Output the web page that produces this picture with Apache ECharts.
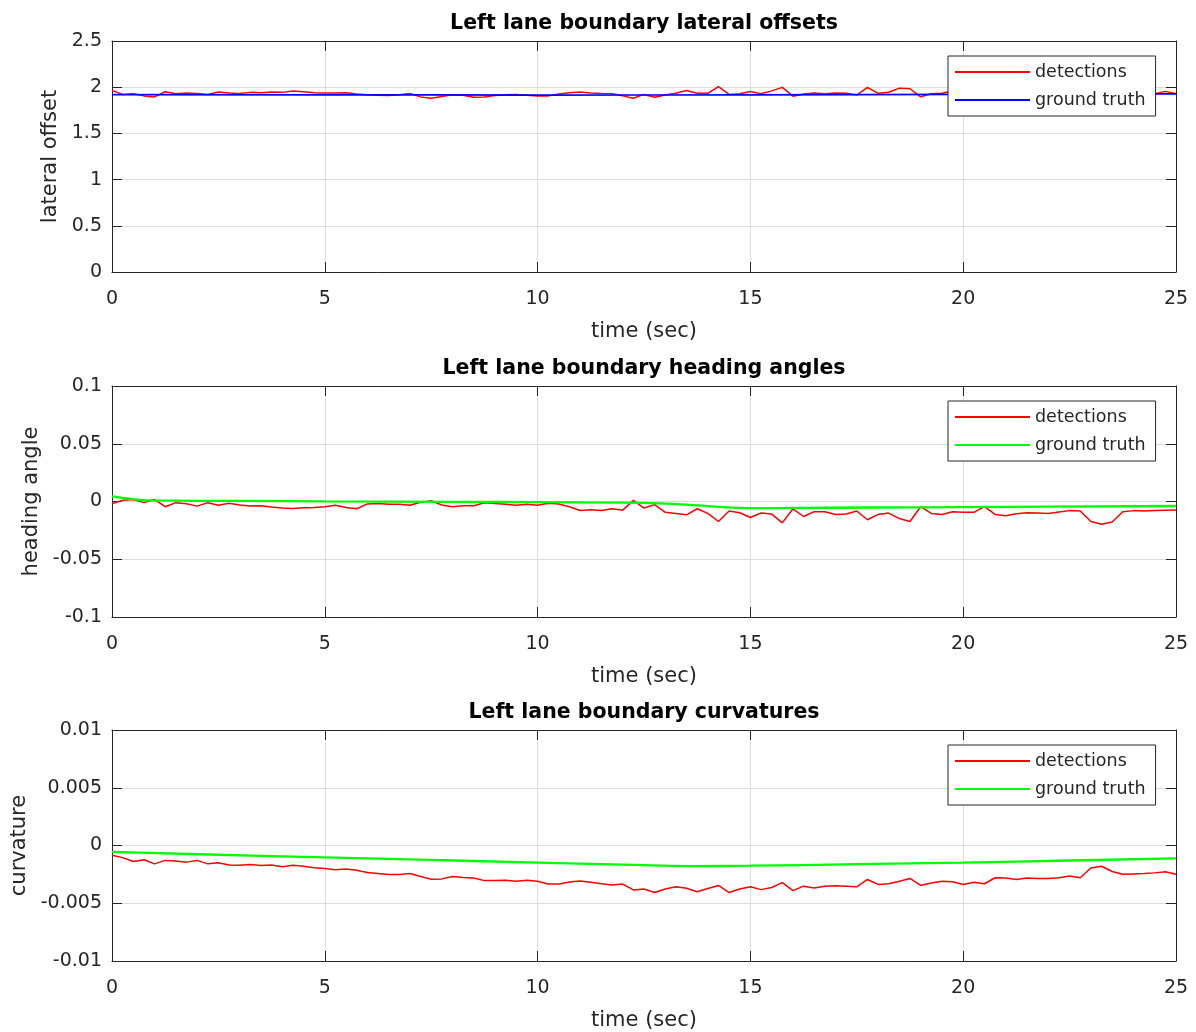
<!DOCTYPE html>
<html>
<head>
<meta charset="utf-8">
<script src="https://cdn.jsdelivr.net/npm/echarts@6/dist/echarts.min.js"></script>
<style>
html,body{margin:0;padding:0;background:#fff;}
#chart{width:1196px;height:1032px;}
</style>
</head>
<body>
<div id="chart"></div>
<script>
// ---------------- data ----------------
const sampleStep = 0.25; // detections sampled every 0.25 s from 0 to 25 s
const titles = ['Left lane boundary lateral offsets', 'Left lane boundary heading angles', 'Left lane boundary curvatures'];
const yNames = ['lateral offset', 'heading angle', 'curvature'];
const xName = 'time (sec)';
const legendNames = ['detections', 'ground truth'];

const offsetDetections = [
  1.966, 1.922, 1.930, 1.906,
  1.895, 1.951, 1.930, 1.937,
  1.933, 1.922, 1.948, 1.937,
  1.933, 1.944, 1.940, 1.948,
  1.944, 1.959, 1.951, 1.940,
  1.937, 1.937, 1.940, 1.926,
  1.918, 1.914, 1.910, 1.918,
  1.933, 1.895, 1.880, 1.899,
  1.918, 1.914, 1.892, 1.895,
  1.910, 1.918, 1.922, 1.914,
  1.906, 1.906, 1.926, 1.940,
  1.948, 1.937, 1.933, 1.930,
  1.906, 1.880, 1.922, 1.892,
  1.915, 1.934, 1.965, 1.934,
  1.934, 2.006, 1.922, 1.930,
  1.953, 1.930, 1.960, 1.998,
  1.903, 1.926, 1.937, 1.930,
  1.937, 1.934, 1.915, 1.998,
  1.934, 1.945, 1.990, 1.983,
  1.896, 1.930, 1.934, 1.960,
  1.930, 1.940, 1.970, 1.930,
  1.920, 1.950, 1.940, 1.910,
  1.930, 1.960, 1.940, 1.920,
  1.950, 1.930, 1.900, 1.930,
  1.940, 1.920, 1.930, 1.955,
  1.930
];
const offsetTruthTime = [0, 5, 10, 15, 20, 25];
const offsetTruth = [1.920, 1.918, 1.915, 1.918, 1.922, 1.927];

const headingDetections = [
  -0.0020, 0.0010, 0.0018, -0.0010,
  0.0018, -0.0045, -0.0010, -0.0020,
  -0.0040, -0.0010, -0.0033, -0.0015,
  -0.0030, -0.0040, -0.0036, -0.0048,
  -0.0057, -0.0060, -0.0054, -0.0051,
  -0.0045, -0.0033, -0.0051, -0.0063,
  -0.0021, -0.0018, -0.0024, -0.0024,
  -0.0033, -0.0006, 0.0006, -0.0030,
  -0.0045, -0.0036, -0.0036, -0.0010,
  -0.0018, -0.0024, -0.0033, -0.0024,
  -0.0033, -0.0015, -0.0021, -0.0045,
  -0.0078, -0.0072, -0.0078, -0.0063,
  -0.0075, 0.0010, -0.0057, -0.0027,
  -0.0094, -0.0103, -0.0115, -0.0063,
  -0.0103, -0.0173, -0.0082, -0.0097,
  -0.0139, -0.0100, -0.0109, -0.0185,
  -0.0063, -0.0130, -0.0088, -0.0088,
  -0.0112, -0.0109, -0.0082, -0.0158,
  -0.0112, -0.0100, -0.0148, -0.0173,
  -0.0045, -0.0103, -0.0112, -0.0088,
  -0.0094, -0.0094, -0.0045, -0.0112,
  -0.0124, -0.0106, -0.0097, -0.0100,
  -0.0103, -0.0091, -0.0079, -0.0082,
  -0.0173, -0.0197, -0.0178, -0.0088,
  -0.0079, -0.0082, -0.0079, -0.0076,
  -0.0073
];
const headingTruthTime = [0, 0.5, 1, 3, 5, 8, 10, 12, 13, 13.5, 14, 14.5, 15, 16, 18, 20, 22, 25];
const headingTruth = [0.0044, 0.0020, 0.0009, 0.0005, 0.0001, -0.0003, -0.0006, -0.0010, -0.0018, -0.0027, -0.0040, -0.0052, -0.0057, -0.0056, -0.0052, -0.0048, -0.0044, -0.0039];

const curvatureDetections = [
  -0.00085, -0.00105, -0.00138, -0.00123,
  -0.00159, -0.00129, -0.00135, -0.00144,
  -0.00129, -0.00159, -0.00150, -0.00168,
  -0.00171, -0.00165, -0.00174, -0.00168,
  -0.00183, -0.00171, -0.00180, -0.00192,
  -0.00200, -0.00210, -0.00204, -0.00215,
  -0.00233, -0.00242, -0.00251, -0.00251,
  -0.00242, -0.00269, -0.00292, -0.00289,
  -0.00269, -0.00278, -0.00281, -0.00304,
  -0.00304, -0.00301, -0.00310, -0.00301,
  -0.00310, -0.00334, -0.00334, -0.00316,
  -0.00307, -0.00319, -0.00331, -0.00343,
  -0.00334, -0.00385, -0.00376, -0.00407,
  -0.00376, -0.00358, -0.00370, -0.00400,
  -0.00373, -0.00346, -0.00407, -0.00376,
  -0.00358, -0.00382, -0.00364, -0.00322,
  -0.00391, -0.00352, -0.00367, -0.00352,
  -0.00349, -0.00352, -0.00358, -0.00294,
  -0.00337, -0.00331, -0.00310, -0.00285,
  -0.00346, -0.00325, -0.00310, -0.00313,
  -0.00337, -0.00319, -0.00331, -0.00279,
  -0.00282, -0.00294, -0.00282, -0.00285,
  -0.00285, -0.00279, -0.00264, -0.00279,
  -0.00195, -0.00180, -0.00225, -0.00249,
  -0.00246, -0.00243, -0.00237, -0.00228,
  -0.00249
];
const curvatureTruthTime = [0, 2.5, 5, 7.5, 10, 12, 13.7, 15, 17.5, 20, 22.5, 25];
const curvatureTruth = [-0.00055, -0.00080, -0.00103, -0.00125, -0.00148, -0.00165, -0.00178, -0.00175, -0.00162, -0.00148, -0.00130, -0.00112];

const xTicks = {min: 0, max: 25, interval: 5};
const yTicks = [
  {min: 0, max: 2.5, interval: 0.5},
  {min: -0.1, max: 0.1, interval: 0.05},
  {min: -0.01, max: 0.01, interval: 0.005}
];

// ---------------- styling ----------------
const FONT = 'DejaVu Sans';
const AX = '#262626';
const GRIDC = '#dedede';
const RED = '#ff0000';
const truthColors = ['#0000ff', '#00ff00', '#00ff00'];
const gridTops = [41, 386, 730];
const gridHeights = [231, 231, 232];
const yNameGaps = [38, 66, 76];

const detSets = [offsetDetections, headingDetections, curvatureDetections];
const truthT = [offsetTruthTime, headingTruthTime, curvatureTruthTime];
const truthV = [offsetTruth, headingTruth, curvatureTruth];

const grid = [], xAxis = [], yAxis = [], series = [], title = [], legend = [];
for (let k = 0; k < 3; k++) {
  grid.push({left: 112, right: 20, top: gridTops[k], height: gridHeights[k], containLabel: false});
  title.push({
    text: titles[k], left: 644, top: gridTops[k] - 28, textAlign: 'center', padding: 0,
    textStyle: {fontFamily: FONT, fontWeight: 'bold', fontSize: 20.5, color: '#000'}
  });
  // bottom x axis
  xAxis.push({
    type: 'value', gridIndex: k, position: 'bottom', min: xTicks.min, max: xTicks.max, interval: xTicks.interval,
    name: xName, nameLocation: 'middle', nameGap: 49,
    nameTextStyle: {fontFamily: FONT, fontSize: 21, color: AX},
    axisLine: {show: true, onZero: false, lineStyle: {color: AX, width: 1}},
    axisTick: {show: true, inside: true, length: 10, lineStyle: {color: AX}},
    axisLabel: {show: true, margin: 18, fontFamily: FONT, fontSize: 19, color: AX},
    splitLine: {show: true, lineStyle: {color: GRIDC, width: 1}}
  });
  // top x axis (box)
  xAxis.push({
    type: 'value', gridIndex: k, position: 'top', min: xTicks.min, max: xTicks.max, interval: xTicks.interval,
    axisLine: {show: true, onZero: false, lineStyle: {color: AX, width: 1}},
    axisTick: {show: true, inside: true, length: 10, lineStyle: {color: AX}},
    axisLabel: {show: false}, splitLine: {show: false}
  });
  yAxis.push({
    type: 'value', gridIndex: k, position: 'left', min: yTicks[k].min, max: yTicks[k].max, interval: yTicks[k].interval,
    name: yNames[k], nameLocation: 'middle', nameGap: yNameGaps[k], nameRotate: 90,
    nameTextStyle: {fontFamily: FONT, fontSize: 21, color: AX},
    axisLine: {show: true, onZero: false, lineStyle: {color: AX, width: 1}},
    axisTick: {show: true, inside: true, length: 10, lineStyle: {color: AX}},
    axisLabel: {show: true, margin: 10, fontFamily: FONT, fontSize: 19, color: AX},
    splitLine: {show: true, lineStyle: {color: GRIDC, width: 1}}
  });
  yAxis.push({
    type: 'value', gridIndex: k, position: 'right', min: yTicks[k].min, max: yTicks[k].max, interval: yTicks[k].interval,
    axisLine: {show: true, onZero: false, lineStyle: {color: AX, width: 1}},
    axisTick: {show: true, inside: true, length: 10, lineStyle: {color: AX}},
    axisLabel: {show: false}, splitLine: {show: false}
  });
  const det = detSets[k];
  series.push({
    type: 'line', name: legendNames[0], xAxisIndex: 2 * k, yAxisIndex: 2 * k,
    data: det.map((v, i) => [i * sampleStep, v]),
    symbol: 'none', smooth: false, lineStyle: {color: RED, width: 1.5}, itemStyle: {color: RED},
    z: 2
  });
  series.push({
    type: 'line', name: legendNames[1], xAxisIndex: 2 * k, yAxisIndex: 2 * k,
    data: truthT[k].map((t, i) => [t, truthV[k][i]]),
    symbol: 'none', smooth: true, lineStyle: {color: truthColors[k], width: k === 0 ? 1.7 : 2.3},
    itemStyle: {color: truthColors[k]}, z: 3
  });
  legend.push({
    show: true, orient: 'vertical', left: 948, top: gridTops[k] + 15,
    data: [
      {name: legendNames[0], itemStyle: {color: RED}},
      {name: legendNames[1], itemStyle: {color: truthColors[k]}}
    ],
    icon: 'rect', itemWidth: 75, itemHeight: 2, itemGap: 10,
    backgroundColor: '#ffffff', borderColor: AX, borderWidth: 1, borderRadius: 0,
    padding: [7, 10, 7, 7],
    textStyle: {fontFamily: FONT, fontSize: 17.5, color: AX},
    selectedMode: false, z: 10
  });
}

const chart = echarts.init(document.getElementById('chart'), null, {renderer: 'canvas'});
chart.setOption({
  animation: false,
  backgroundColor: '#ffffff',
  title, grid, xAxis, yAxis, series, legend
});
</script>
</body>
</html>
